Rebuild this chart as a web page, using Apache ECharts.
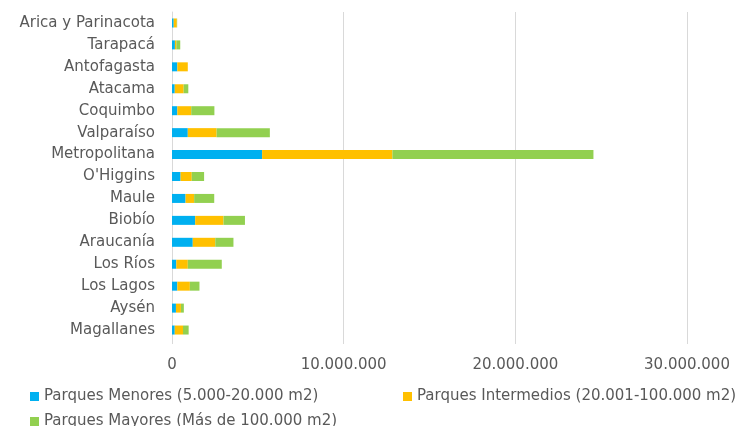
<!DOCTYPE html>
<html><head><meta charset="utf-8">
<script src="https://cdn.jsdelivr.net/npm/echarts@6/dist/echarts.min.js"></script>
<style>html,body{margin:0;padding:0;background:#fff}#c{width:748px;height:426px}</style>
</head><body><div id="c"></div>
<script>
var categories = ["Arica y Parinacota","Tarapacá","Antofagasta","Atacama","Coquimbo","Valparaíso","Metropolitana","O'Higgins","Maule","Biobío","Araucanía","Los Ríos","Los Lagos","Aysén","Magallanes"];
var seriesNames = ["Parques Menores (5.000-20.000 m2)","Parques Intermedios (20.001-100.000 m2)","Parques Mayores (Más de 100.000 m2)"];
var menores =     [100000,170000,310000,160000,310000,920000,5250000,500000,790000,1350000,1210000,250000,310000,230000,160000];
var intermedios = [180000,80000,610000,520000,810000,1680000,7590000,650000,500000,1650000,1310000,670000,730000,290000,480000];
var mayores =     [20000,230000,0,270000,1350000,3100000,11710000,720000,1170000,1250000,1060000,1980000,560000,170000,330000];
var tickValues = [0,10000000,20000000,30000000];
var colors = ["#00B0F0","#FFC000","#92D050"];

function fmt(v){return String(v).replace(/\B(?=(\d{3})+(?!\d))/g,'.');}
var font = "'DejaVu Sans', sans-serif";
var txt = '#595959';
var chart = echarts.init(document.getElementById('c'));
var datas = [menores, intermedios, mayores];
var legendPos = [{left:25,top:384},{left:398,top:384},{left:25,top:409}];
chart.setOption({
  animation:false,
  grid:{left:172,right:61,top:12,bottom:85},
  xAxis:{type:'value',min:0,max:30000000,interval:10000000,
    axisLine:{show:false},axisTick:{show:true,length:3,lineStyle:{color:'#d9d9d9'}},
    splitLine:{lineStyle:{color:'#d9d9d9',width:1}},
    axisLabel:{color:txt,fontFamily:font,fontSize:15,margin:17,formatter:function(v){return fmt(v);}}},
  yAxis:{type:'category',data:categories,inverse:true,
    axisLine:{show:true,lineStyle:{color:'#d9d9d9'}},axisTick:{show:false},
    axisLabel:{color:txt,fontFamily:font,fontSize:15,margin:17}},
  legend: legendPos.map(function(p,i){return {left:p.left,top:p.top,data:[seriesNames[i]],icon:'rect',itemWidth:9,itemHeight:9,itemGap:4,itemStyle:{borderWidth:0},
    textStyle:{color:txt,fontFamily:font,fontSize:15}};}),
  series: seriesNames.map(function(n,i){return {name:n,type:'bar',stack:'total',barWidth:9,data:datas[i],itemStyle:{color:colors[i]}};})
});
</script></body></html>
